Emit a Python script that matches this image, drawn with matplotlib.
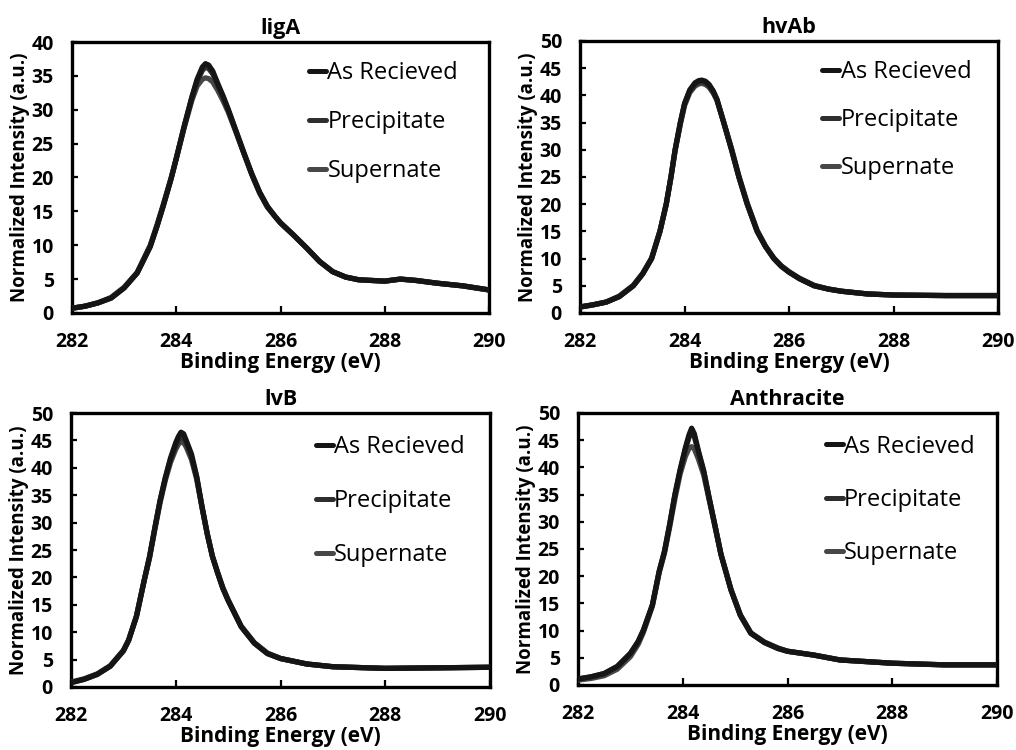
import matplotlib
matplotlib.use("Agg")
import matplotlib.pyplot as plt

plt.rcParams['font.family'] = ['Open Sans', 'DejaVu Sans']

series_names = ["As Recieved", "Precipitate", "Supernate"]
series_colors = ["#151515", "#2e2e2e", "#474747"]

# ligA
liga_energy = [282, 282.25, 282.5, 282.75, 283, 283.25, 283.5, 283.63, 283.75, 283.9,
               284.0, 284.15, 284.3, 284.4, 284.5, 284.56, 284.62, 284.7, 284.8, 284.9,
               285.0, 285.15, 285.3, 285.45, 285.6, 285.75, 285.9, 286.0, 286.25, 286.5,
               286.75, 287.0, 287.25, 287.5, 287.75, 288.0, 288.3, 288.6, 289.0, 289.5, 290]
liga_as_recieved = [0.7, 1.0, 1.5, 2.2, 3.7, 5.9, 9.8, 12.8, 15.8, 19.8,
                    22.8, 27.5, 31.9, 34.5, 36.3, 36.8, 36.6, 35.7, 33.8, 32.0,
                    30.0, 26.8, 23.6, 20.5, 17.8, 15.7, 14.2, 13.3, 11.5, 9.6,
                    7.6, 6.1, 5.3, 4.9, 4.8, 4.7, 5.0, 4.8, 4.4, 4.0, 3.4]
liga_precipitate = [0.7, 1.0, 1.5, 2.2, 3.7, 5.9, 9.8, 12.8, 15.8, 19.8,
                    22.8, 27.5, 31.8, 34.2, 35.8, 36.3, 36.1, 35.3, 33.5, 31.8,
                    29.9, 26.7, 23.5, 20.4, 17.7, 15.6, 14.2, 13.3, 11.5, 9.6,
                    7.6, 6.1, 5.3, 4.9, 4.8, 4.7, 5.0, 4.8, 4.4, 4.0, 3.4]
liga_supernate = [0.7, 1.0, 1.5, 2.3, 3.8, 6.0, 10.0, 13.0, 16.0, 19.9,
                  22.8, 27.3, 31.4, 33.5, 34.5, 34.7, 34.6, 34.1, 32.8, 31.3,
                  29.6, 26.6, 23.5, 20.5, 17.8, 15.7, 14.2, 13.3, 11.5, 9.6,
                  7.6, 6.1, 5.3, 4.9, 4.8, 4.7, 5.0, 4.8, 4.4, 4.0, 3.4]

# hvAb
hvab_energy = [282, 282.25, 282.5, 282.75, 283.02, 283.2, 283.37, 283.53, 283.65, 283.74,
               283.82, 283.92, 284.0, 284.1, 284.2, 284.27, 284.33, 284.4, 284.47, 284.55,
               284.62, 284.75, 284.9, 285.04, 285.2, 285.39, 285.55, 285.71, 285.85, 286.0,
               286.2, 286.48, 286.75, 287.0, 287.5, 288.0, 289.0, 290]
hvab_as_recieved = [1.1, 1.5, 2.0, 3.0, 5.0, 7.2, 10.0, 15.0, 20.0, 25.0,
                    30.0, 35.0, 38.5, 41.0, 42.3, 42.7, 42.8, 42.6, 42.0, 40.8,
                    39.3, 35.0, 30.0, 25.0, 20.0, 15.0, 12.2, 10.0, 8.6, 7.5,
                    6.3, 5.0, 4.4, 4.0, 3.5, 3.3, 3.2, 3.2]
hvab_precipitate = [1.1, 1.5, 2.0, 3.0, 5.0, 7.2, 10.0, 15.0, 20.0, 25.0,
                    30.0, 35.0, 38.4, 40.8, 42.0, 42.4, 42.5, 42.3, 41.8, 40.6,
                    39.2, 35.0, 30.0, 25.0, 20.0, 15.0, 12.2, 10.0, 8.6, 7.5,
                    6.3, 5.0, 4.4, 4.0, 3.5, 3.3, 3.2, 3.2]
hvab_supernate = [1.1, 1.5, 2.0, 3.1, 5.1, 7.3, 10.1, 15.1, 20.0, 24.9,
                  29.8, 34.7, 38.1, 40.5, 41.7, 42.1, 42.2, 42.0, 41.5, 40.4,
                  39.1, 35.1, 30.2, 25.2, 20.2, 15.2, 12.3, 10.1, 8.7, 7.6,
                  6.4, 5.1, 4.4, 4.0, 3.5, 3.3, 3.2, 3.2]

# lvB
lvb_energy = [282, 282.25, 282.5, 282.75, 283.0, 283.1, 283.25, 283.4, 283.5, 283.6,
              283.7, 283.8, 283.9, 284.0, 284.05, 284.1, 284.15, 284.2, 284.3, 284.4,
              284.5, 284.6, 284.7, 284.8, 284.9, 285.0, 285.25, 285.5, 285.75, 286.0,
              286.5, 287, 288, 289, 290]
lvb_as_recieved = [0.8, 1.4, 2.3, 3.8, 6.6, 8.5, 12.9, 19.6, 23.8, 29.0,
                   34.0, 38.2, 41.8, 44.6, 45.7, 46.5, 46.2, 45.0, 42.5, 38.4,
                   33.0, 28.0, 23.8, 20.8, 18.0, 15.8, 11.0, 8.0, 6.1, 5.2,
                   4.2, 3.7, 3.4, 3.5, 3.6]
lvb_precipitate = [0.8, 1.4, 2.3, 3.8, 6.6, 8.5, 12.9, 19.6, 23.8, 29.0,
                   34.0, 38.1, 41.5, 44.0, 45.0, 45.8, 45.6, 44.5, 42.0, 38.2,
                   32.9, 28.0, 23.8, 20.8, 18.0, 15.8, 11.0, 8.0, 6.1, 5.2,
                   4.2, 3.7, 3.4, 3.5, 3.6]
lvb_supernate = [0.9, 1.5, 2.4, 3.9, 6.7, 8.6, 13.0, 19.5, 23.6, 28.7,
                 33.6, 37.7, 41.0, 43.4, 44.3, 44.8, 44.6, 43.8, 41.5, 37.9,
                 32.8, 28.0, 23.9, 20.9, 18.1, 15.9, 11.1, 8.1, 6.2, 5.2,
                 4.2, 3.7, 3.4, 3.5, 3.6]

# Anthracite
anth_energy = [282, 282.25, 282.5, 282.75, 283.0, 283.15, 283.25, 283.42, 283.55, 283.65,
               283.75, 283.85, 283.95, 284.05, 284.12, 284.17, 284.22, 284.3, 284.4, 284.5,
               284.6, 284.73, 284.92, 285.1, 285.3, 285.56, 285.82, 286.0, 286.5, 287.0,
               287.5, 288.0, 289.0, 290]
anth_as_recieved = [1.1, 1.5, 2.1, 3.4, 5.8, 8.0, 10.1, 14.7, 20.9, 24.5,
                    29.5, 35.0, 39.6, 43.6, 46.0, 47.2, 46.2, 43.0, 39.4, 34.6,
                    30.0, 24.0, 17.5, 12.8, 9.5, 7.8, 6.7, 6.2, 5.5, 4.6,
                    4.3, 4.0, 3.7, 3.7]
anth_precipitate = [1.1, 1.5, 2.1, 3.4, 5.8, 8.0, 10.1, 14.7, 20.9, 24.5,
                    29.5, 34.9, 39.4, 43.3, 45.5, 46.5, 45.7, 42.7, 39.2, 34.5,
                    30.0, 24.0, 17.5, 12.8, 9.5, 7.8, 6.7, 6.2, 5.5, 4.6,
                    4.3, 4.0, 3.7, 3.7]
anth_supernate = [0.9, 1.2, 1.7, 2.9, 5.2, 7.5, 9.7, 14.5, 20.6, 24.2,
                  29.0, 34.2, 38.8, 42.0, 43.5, 43.8, 43.4, 41.5, 38.6, 34.2,
                  29.8, 24.0, 17.6, 12.9, 9.6, 7.9, 6.8, 6.2, 5.5, 4.6,
                  4.3, 4.0, 3.7, 3.7]

panel_titles = ["ligA", "hvAb", "lvB", "Anthracite"]
panel_energy = [liga_energy, hvab_energy, lvb_energy, anth_energy]
panel_series = [
    [liga_as_recieved, liga_precipitate, liga_supernate],
    [hvab_as_recieved, hvab_precipitate, hvab_supernate],
    [lvb_as_recieved, lvb_precipitate, lvb_supernate],
    [anth_as_recieved, anth_precipitate, anth_supernate],
]
panel_ymax = [40, 50, 50, 50]
x_ticks = [282, 284, 286, 288, 290]

# axes rectangles in figure fractions, and legend anchor in axes fractions
rects = [
    [0.0709, 0.5827, 0.4104, 0.3613],
    [0.5709, 0.5827, 0.4114, 0.3627],
    [0.0699, 0.0840, 0.4124, 0.3653],
    [0.5689, 0.0867, 0.4124, 0.3627],
]
legend_anchor = [(0.569, 0.93), (0.580, 0.93), (0.584, 0.92), (0.591, 0.92)]
legend_spacing = [1.07, 1.02, 1.27, 1.24]

fig = plt.figure(figsize=(10.16, 7.5), dpi=100)

for i in range(4):
    ax = fig.add_axes(rects[i])
    energy = panel_energy[i]
    # draw lightest first so the darkest ends on top
    for j in [2, 1, 0]:
        ax.plot(energy, panel_series[i][j], color=series_colors[j], lw=3.8,
                label=series_names[j], solid_capstyle='round',
                solid_joinstyle='round', zorder=5 - j)

    ax.set_xlim(282, 290)
    ax.set_ylim(0, panel_ymax[i])
    ax.set_xticks(x_ticks)
    ax.set_yticks(range(0, panel_ymax[i] + 1, 5))
    ax.tick_params(axis='x', direction='in', length=5, width=1.6, pad=14,
                   labelsize=14)
    ax.tick_params(axis='y', direction='in', length=4, width=1.6, pad=13,
                   labelsize=14)
    for lab in ax.get_xticklabels() + ax.get_yticklabels():
        lab.set_fontweight('bold')
    for sp in ax.spines.values():
        sp.set_linewidth(2.4)
        sp.set_color('black')

    ax.set_title(panel_titles[i], fontsize=15.5, fontweight='bold', pad=6)
    ax.set_xlabel("Binding Energy (eV)", fontsize=15, fontweight='bold',
                  labelpad=0)
    ax.set_ylabel("Normalized Intensity (a.u.)", fontsize=13.5,
                  fontweight='bold', labelpad=1)

    handles, labels = ax.get_legend_handles_labels()
    order = [2, 1, 0]
    leg = ax.legend([handles[k] for k in order], [labels[k] for k in order],
                    loc='upper left', bbox_to_anchor=legend_anchor[i],
                    frameon=False, fontsize=17, handlelength=0.72,
                    handletextpad=0.05, labelspacing=legend_spacing[i],
                    borderpad=0, borderaxespad=0)
    for line in leg.get_lines():
        line.set_linewidth(3.6)

fig.savefig("out.png", dpi=100)
